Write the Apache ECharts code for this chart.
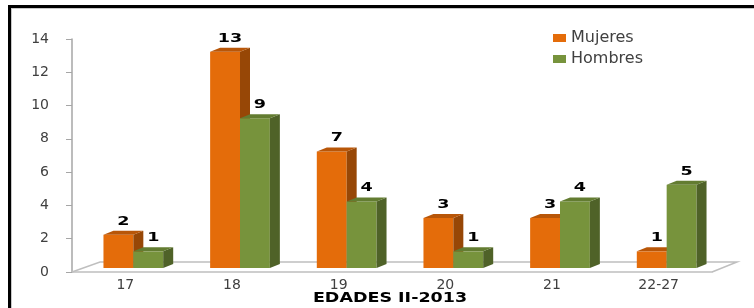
<!DOCTYPE html>
<html>
<head>
<meta charset="utf-8">
<script src="https://cdn.jsdelivr.net/npm/echarts@6/dist/echarts.min.js"></script>
<style>
  html, body { margin: 0; padding: 0; background: #fff; }
  #main { width: 754px; height: 308px; }
</style>
</head>
<body>
<div id="main"></div>
<script>
  var categories = ['17', '18', '19', '20', '21', '22-27'];
  var mujeres = [2, 13, 7, 3, 3, 1];
  var hombres = [1, 9, 4, 1, 4, 5];
  var yTicks = [0, 2, 4, 6, 8, 10, 12, 14];

  var colors = {
    Mujeres: { front: '#E46C0A', side: '#974706', top: '#B85608' },
    Hombres: { front: '#77933C', side: '#4F6228', top: '#637C31' }
  };
  var DX = 10, DY = 4;

  function bar3d(name, idx) {
    var c = colors[name];
    return function (params, api) {
      var cat = api.value(0), v = api.value(1);
      var base = api.coord([cat, 0]);
      var top = api.coord([cat, v]);
      var bw = api.size([1, 0])[0];
      var w = bw * 0.28;
      var x0 = base[0] - w + 8 + idx * w;
      var yb = base[1] - 4;
      var yt = top[1] - 4;
      return {
        type: 'group',
        children: [
          { type: 'rect', shape: { x: x0, y: yt, width: w, height: yb - yt }, style: { fill: c.front } },
          { type: 'polygon', shape: { points: [[x0 + w, yt], [x0 + w + DX, yt - DY], [x0 + w + DX, yb - DY], [x0 + w, yb]] }, style: { fill: c.side } },
          { type: 'polygon', shape: { points: [[x0, yt], [x0 + DX, yt - DY], [x0 + w + DX, yt - DY], [x0 + w, yt]] }, style: { fill: c.top } },
          { type: 'text', x: x0 + w / 2 + DX / 2, y: yt - DY - 3, scaleX: 1.35,
            style: { text: String(v), x: 0, y: 0, align: 'center', verticalAlign: 'bottom',
              fill: '#000', font: 'bold 13px "DejaVu Sans"' } }
        ]
      };
    };
  }

  function floor(params, api) {
    var cs = params.coordSys;
    var y0 = cs.y + cs.height, x1 = cs.x, x2 = cs.x + cs.width;
    return {
      type: 'polyline',
      shape: { points: [[x1, y0], [x1 + 28, y0 - 10], [x2 + 25, y0 - 10], [x2, y0]] },
      style: { stroke: '#BFBFBF', lineWidth: 1.5, fill: null }
    };
  }

  var myChart = echarts.init(document.getElementById('main'));
  myChart.setOption({
    animation: false,
    legend: {
      orient: 'vertical',
      left: 548,
      top: 25,
      itemWidth: 13,
      itemHeight: 8,
      itemGap: 5,
      icon: 'rect',
      textStyle: { fontFamily: 'DejaVu Sans', fontSize: 16, color: '#404040' },
      data: [
        { name: 'Mujeres', itemStyle: { color: colors.Mujeres.front } },
        { name: 'Hombres', itemStyle: { color: colors.Hombres.front } }
      ]
    },
    graphic: [
      { type: 'rect', shape: { x: 8, y: 5, width: 746, height: 3 }, style: { fill: '#000' } },
      { type: 'rect', shape: { x: 8, y: 5, width: 3, height: 303 }, style: { fill: '#000' } },
      { type: 'rect', shape: { x: 11, y: 8, width: 743, height: 1 }, style: { fill: '#C8C8C8' } },
      { type: 'rect', shape: { x: 11, y: 8, width: 1, height: 300 }, style: { fill: '#C8C8C8' } },
      { type: 'text', x: 390, y: 298, scaleX: 1.25, z: 10,
        style: { text: 'EDADES II-2013', x: 0, y: 0, align: 'center', verticalAlign: 'middle',
          fill: '#000', font: 'bold 14px "DejaVu Sans"' } }
    ],
    grid: { left: 72, right: 42, top: 39, bottom: 36 },
    xAxis: {
      type: 'category',
      data: categories,
      axisLine: { lineStyle: { color: '#BFBFBF', width: 1.5 } },
      axisTick: { length: 5, lineStyle: { color: '#A6A6A6' } },
      axisLabel: { fontFamily: 'DejaVu Sans', fontSize: 14, color: '#404040', margin: 6 }
    },
    yAxis: {
      type: 'value',
      min: yTicks[0],
      max: yTicks[yTicks.length - 1],
      interval: 2,
      splitLine: { show: false },
      axisLine: { show: true, lineStyle: { color: '#A6A6A6', width: 1.5 } },
      axisTick: { show: true, inside: false, length: 6, lineStyle: { color: '#A6A6A6' } },
      axisLabel: { fontFamily: 'DejaVu Sans', fontSize: 14, color: '#404040', margin: 23 , align: 'right'}
    },
    series: [
      {
        name: 'floor', type: 'custom', renderItem: floor, data: [[0, 0]], z: 1, silent: true,
        encode: { x: 0, y: 1 }
      },
      {
        name: 'Mujeres', type: 'custom', renderItem: bar3d('Mujeres', 0), z: 2,
        data: mujeres.map(function (v, i) { return [i, v]; }), encode: { x: 0, y: 1 }
      },
      {
        name: 'Hombres', type: 'custom', renderItem: bar3d('Hombres', 1), z: 3,
        data: hombres.map(function (v, i) { return [i, v]; }), encode: { x: 0, y: 1 }
      }
    ]
  });
</script>
</body>
</html>
